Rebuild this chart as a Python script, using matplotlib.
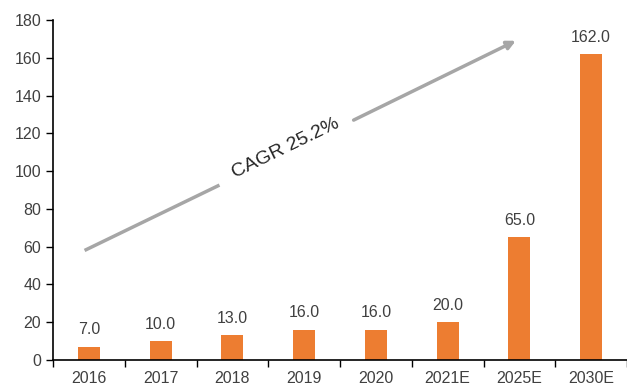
import matplotlib.pyplot as plt
import numpy as np

years = ["2016", "2017", "2018", "2019", "2020", "2021E", "2025E", "2030E"]
values = [7.0, 10.0, 13.0, 16.0, 16.0, 20.0, 65.0, 162.0]
cagr_label = "CAGR 25.2%"

bar_color = "#ED7D31"
text_color = "#404040"
arrow_color = "#A6A6A6"

plt.rcParams['font.family'] = ['Liberation Sans', 'DejaVu Sans']

fig = plt.figure(figsize=(6.27, 3.85), dpi=100)
ax = fig.add_axes([53 / 627, 25 / 385, 574 / 627, 340 / 385])

x = np.arange(len(years))
ax.bar(x, values, width=0.31, color=bar_color, zorder=2)
for xi, v in zip(x, values):
    ax.text(xi, v + 5, f"{v:.1f}", ha="center", va="bottom",
            fontsize=11.5, color=text_color)

ax.set_xlim(-0.5, len(years) - 0.5)
ax.set_ylim(0, 180)
ax.set_yticks(np.arange(0, 181, 20))
ax.set_xticks(x)
ax.set_xticklabels(years)
ax.set_xticks(np.arange(len(years) + 1) - 0.5, minor=True)
ax.tick_params(axis="x", which="major", length=0, pad=8, labelsize=11.5, labelcolor=text_color)
ax.tick_params(axis="x", which="minor", length=5, direction="out", width=1)
ax.tick_params(axis="y", length=5, direction="out", width=1, labelsize=11.5, labelcolor=text_color)

for s in ["top", "right"]:
    ax.spines[s].set_visible(False)
for s in ["left", "bottom"]:
    ax.spines[s].set_linewidth(1.2)
    ax.spines[s].set_color("black")

# CAGR arrow with a gap for the label
start = (-0.06, 58)
gap_a = (1.82, 92.6)
gap_b = (3.69, 127)
end = (5.95, 169)
ax.plot([start[0], gap_a[0]], [start[1], gap_a[1]], color=arrow_color, lw=2.5,
        solid_capstyle="butt", zorder=3)
ax.annotate("", xy=end, xytext=gap_b,
            arrowprops=dict(arrowstyle="-|>,head_length=0.5,head_width=0.25",
                            color=arrow_color, lw=2.5, shrinkA=0, shrinkB=0),
            zorder=3)

p0 = ax.transData.transform(start)
p1 = ax.transData.transform(end)
angle = np.degrees(np.arctan2(p1[1] - p0[1], p1[0] - p0[0]))
ax.text(2.74, 112, cagr_label, rotation=angle, rotation_mode="anchor",
        ha="center", va="center", fontsize=14, color="#262626")

fig.savefig("out.png", dpi=100)
